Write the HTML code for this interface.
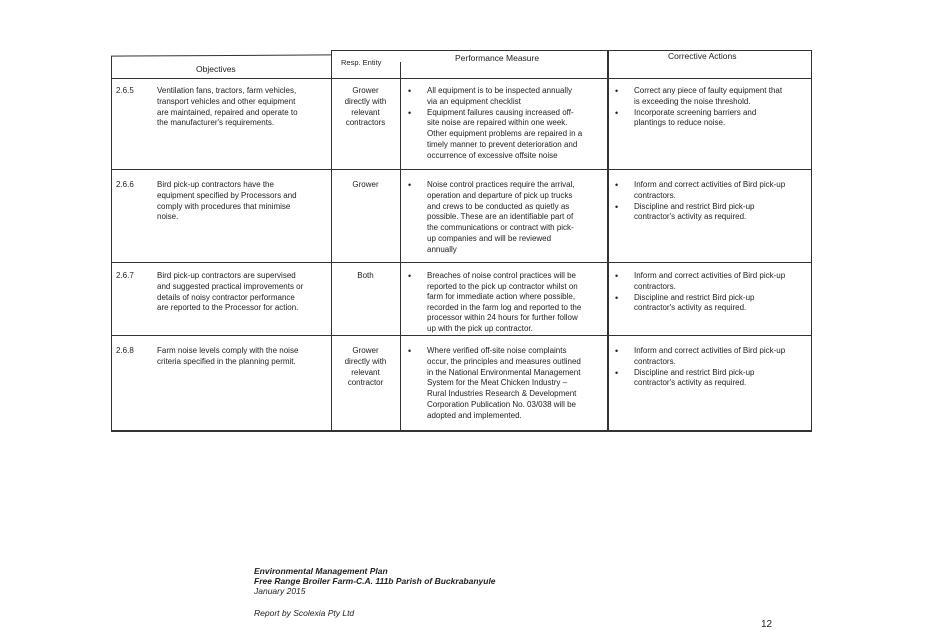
<!DOCTYPE html>
<html><head><meta charset="utf-8"><style>
body{margin:0;width:931px;height:641px;background:#fff;position:relative;overflow:hidden;font-family:"Liberation Sans",Arial,sans-serif;color:#222}
.l{position:absolute;background:#333}
.t{position:absolute;font-size:8px;line-height:10.8px;white-space:nowrap}
.c{text-align:center}
.f{position:absolute;font-size:8.5px;font-style:italic;line-height:10px;white-space:nowrap;color:#222}
.u{font-size:9px}
</style></head><body>
<div class="l" style="left:111px;top:55px;width:220px;height:1px;transform:rotate(-0.3deg)"></div>
<div class="l" style="left:331px;top:50px;width:481px;height:1px;"></div>
<div class="l" style="left:111px;top:78px;width:701px;height:1px"></div>
<div class="l" style="left:111px;top:169px;width:701px;height:1px"></div>
<div class="l" style="left:111px;top:262px;width:701px;height:1px"></div>
<div class="l" style="left:111px;top:335px;width:701px;height:1px"></div>
<div class="l" style="left:111px;top:430px;width:701px;height:1.5px"></div>
<div class="l" style="left:111px;top:56px;width:1px;height:375px"></div>
<div class="l" style="left:331px;top:50px;width:1px;height:381px"></div>
<div class="l" style="left:400px;top:62px;width:1px;height:369px"></div>
<div class="l" style="left:607px;top:50px;width:1.5px;height:381px"></div>
<div class="l" style="left:811px;top:50px;width:1px;height:381px"></div>
<div class="t" style="left:196px;top:64px;font-size:8.5px">Objectives</div>
<div class="t" style="left:341px;top:58px;font-size:7.5px">Resp. Entity</div>
<div class="t" style="left:455px;top:53px;font-size:8.5px">Performance Measure</div>
<div class="t" style="left:668px;top:51px;font-size:8.5px">Corrective Actions</div>
<!-- row1 -->
<div class="t" style="left:116px;top:86px">2.6.5</div>
<div class="t" style="left:157px;top:86px">Ventilation fans, tractors, farm vehicles,<br>transport vehicles and other equipment<br>are maintained, repaired and operate to<br>the manufacturer's requirements.</div>
<div class="t c" style="left:331px;width:69px;top:86px">Grower<br>directly with<br>relevant<br>contractors</div>
<div class="t u" style="left:408px;top:86px">•<br><br>•</div>
<div class="t" style="left:427px;top:86px">All equipment is to be inspected annually<br>via an equipment checklist<br>Equipment failures causing increased off-<br>site noise are repaired within one week.<br>Other equipment problems are repaired in a<br>timely manner to prevent deterioration and<br>occurrence of excessive offsite noise</div>
<div class="t u" style="left:615px;top:86px">•<br><br>•</div>
<div class="t" style="left:634px;top:86px">Correct any piece of faulty equipment that<br>is exceeding the noise threshold.<br>Incorporate screening barriers and<br>plantings to reduce noise.</div>
<!-- row2 -->
<div class="t" style="left:116px;top:180px">2.6.6</div>
<div class="t" style="left:157px;top:180px">Bird pick-up contractors have the<br>equipment specified by Processors and<br>comply with procedures that minimise<br>noise.</div>
<div class="t c" style="left:331px;width:69px;top:180px">Grower</div>
<div class="t u" style="left:408px;top:180px">•</div>
<div class="t" style="left:427px;top:180px">Noise control practices require the arrival,<br>operation and departure of pick up trucks<br>and crews to be conducted as quietly as<br>possible.  These are an identifiable part of<br>the communications or contract with pick-<br>up companies and will be reviewed<br>annually</div>
<div class="t u" style="left:615px;top:180px">•<br><br>•</div>
<div class="t" style="left:634px;top:180px">Inform and correct activities of Bird pick-up<br>contractors.<br>Discipline and restrict Bird pick-up<br>contractor's activity as required.</div>
<!-- row3 -->
<div class="t" style="left:116px;top:271px">2.6.7</div>
<div class="t" style="left:157px;top:271px">Bird pick-up contractors are supervised<br>and suggested practical improvements or<br>details of noisy contractor performance<br>are reported to the Processor for action.</div>
<div class="t c" style="left:331px;width:69px;top:271px">Both</div>
<div class="t u" style="left:408px;top:271px">•</div>
<div class="t" style="left:427px;top:271px;line-height:10.6px">Breaches of noise control practices will be<br>reported to the pick up contractor whilst on<br>farm for immediate action where possible,<br>recorded in the farm log and reported to the<br>processor within 24 hours for further follow<br>up with the pick up contractor.</div>
<div class="t u" style="left:615px;top:271px">•<br><br>•</div>
<div class="t" style="left:634px;top:271px">Inform and correct activities of Bird pick-up<br>contractors.<br>Discipline and restrict Bird pick-up<br>contractor's activity as required.</div>
<!-- row4 -->
<div class="t" style="left:116px;top:346px">2.6.8</div>
<div class="t" style="left:157px;top:346px">Farm noise levels comply with the noise<br>criteria specified in the planning permit.</div>
<div class="t c" style="left:331px;width:69px;top:346px">Grower<br>directly with<br>relevant<br>contractor</div>
<div class="t u" style="left:408px;top:346px">•</div>
<div class="t" style="left:427px;top:346px">Where verified off-site noise complaints<br>occur, the principles and measures outlined<br>in the National Environmental Management<br>System for the Meat Chicken Industry –<br>Rural Industries Research &amp; Development<br>Corporation Publication No. 03/038 will be<br>adopted and implemented.</div>
<div class="t u" style="left:615px;top:346px">•<br><br>•</div>
<div class="t" style="left:634px;top:346px">Inform and correct activities of Bird pick-up<br>contractors.<br>Discipline and restrict Bird pick-up<br>contractor's activity as required.</div>
<!-- footer -->
<div class="f" style="left:254px;top:566px;font-weight:bold">Environmental Management Plan</div>
<div class="f" style="left:254px;top:576px;font-weight:bold">Free Range Broiler Farm-C.A. 111b Parish of Buckrabanyule</div>
<div class="f" style="left:254px;top:586px">January 2015</div>
<div class="f" style="left:254px;top:608px">Report by Scolexia Pty Ltd</div>
<div style="position:absolute;left:761px;top:619px;font-size:10px">12</div>
</body></html>
